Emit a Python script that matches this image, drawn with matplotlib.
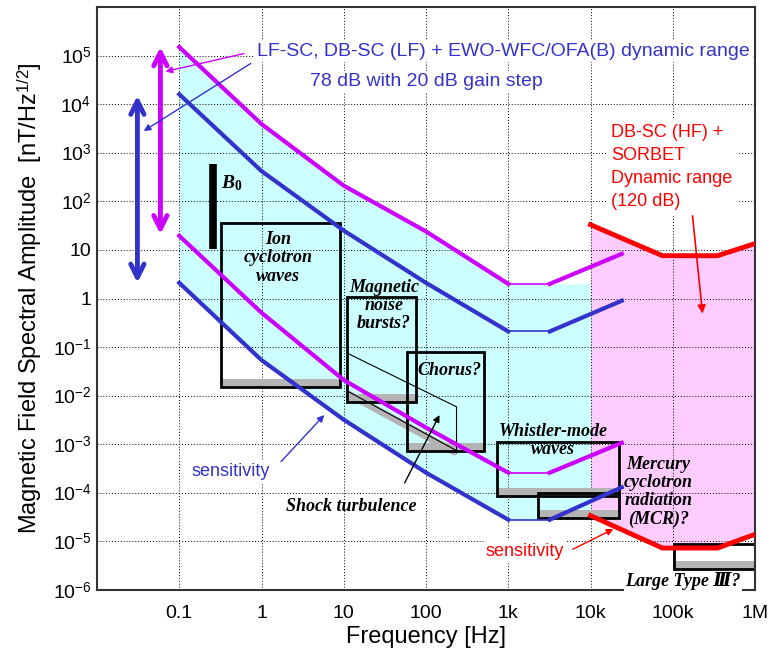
import matplotlib
matplotlib.use('Agg')
import matplotlib.pyplot as plt
from matplotlib.patches import Rectangle
from matplotlib.ticker import FixedLocator, FixedFormatter, NullLocator

plt.rcParams['font.family'] = ['Liberation Sans', 'DejaVu Sans']
plt.rcParams['mathtext.fontset'] = 'custom'
plt.rcParams['mathtext.rm'] = 'Liberation Sans'
plt.rcParams['mathtext.it'] = 'Liberation Serif:italic:bold'
plt.rcParams['mathtext.bf'] = 'Liberation Serif:bold'

# LF-SC / DB-SC (LF) curves [Hz], [nT/Hz^1/2]
freq_lf = [0.1, 1, 10, 100, 1e3, 3.2e3, 2.4e4]
mag_upper = [1.5e5, 3.9e3, 2.1e2, 2.4e1, 2.0, 2.0, 8.3]
blue_upper = [1.6e4, 4.2e2, 2.5e1, 2.1, 0.21, 0.21, 0.9]
mag_lower = [19.5, 0.51, 0.021, 2.2e-3, 2.6e-4, 2.6e-4, 1.07e-3]
blue_lower = [2.1, 0.054, 3.2e-3, 2.6e-4, 2.8e-5, 2.8e-5, 1.3e-4]

# DB-SC (HF) + SORBET
freq_hf = [1e4, 7.5e4, 3.5e5, 1e6]
red_upper = [33, 7.6, 7.6, 13.5]
red_lower = [3.4e-5, 7.3e-6, 7.3e-6, 1.4e-5]

# wave phenomena boxes
box_names = ['ion', 'noise', 'chorus', 'whistler', 'mcr', 'type3']
box_f_lo = [0.32, 11, 58, 720, 2300, 1.05e5]
box_f_hi = [9.1, 76, 510, 2.2e4, 2.2e4, 1e6]
box_b_lo = [0.015, 0.0074, 7.3e-4, 8.7e-5, 3.1e-5, 2.7e-6]
box_b_hi = [36, 1.05, 0.079, 1.1e-3, 1e-4, 9e-6]

# shock turbulence parallelogram
shock_f = [11.2, 235]
shock_top = [0.074, 0.0059]
shock_bot = [0.011, 6.6e-4]

# B0 range
b0_f = 0.26
b0_range = [10.5, 590]

x_ticks = [0.1, 1, 10, 100, 1e3, 1e4, 1e5, 1e6]
x_labels = ['0.1', '1', '10', '100', '1k', '10k', '100k', '1M']
y_ticks = [1e-6, 1e-5, 1e-4, 1e-3, 1e-2, 1e-1, 1, 10, 1e2, 1e3, 1e4, 1e5]
y_labels = [r'$10^{-6}$', r'$10^{-5}$', r'$10^{-4}$', r'$10^{-3}$', r'$10^{-2}$',
            r'$10^{-1}$', '1', '10', r'$10^{2}$', r'$10^{3}$', r'$10^{4}$', r'$10^{5}$']

MAG = '#CC00FF'
BLUE = '#3333CC'
RED = '#FF0000'
SERIF = ['Liberation Serif', 'DejaVu Serif']
WHITE_BOX = dict(facecolor='white', edgecolor='none', pad=1.5)

fig = plt.figure(figsize=(7.72, 6.59), dpi=100)
ax = fig.add_axes([97 / 772, 69 / 659, 658 / 772, 583 / 659])
ax.set_xscale('log')
ax.set_yscale('log')
ax.set_xlim(0.01, 1e6)
ax.set_ylim(1e-6, 1e6)

# filled ranges
fill_f = freq_lf[:5] + [1e4]
fill_top = mag_upper[:5] + [mag_upper[4]]
fill_bot = blue_lower[:5] + [blue_lower[4]]
ax.fill_between(fill_f, fill_bot, fill_top, color='#CCFFFF', lw=0, zorder=0.2)
ax.fill_between(freq_hf, red_lower, red_upper, color='#FFCCFF', lw=0, zorder=0.2)

ax.set_axisbelow(True)
ax.grid(True, which='major', color='black', ls=(0, (1, 2)), lw=0.7)

# boxes
for f0, f1, b0, b1, name in zip(box_f_lo, box_f_hi, box_b_lo, box_b_hi, box_names):
    if name == 'type3':
        ax.add_patch(Rectangle((f0, b0), f1 - f0, b1 - b0, facecolor='white',
                               edgecolor='none', zorder=2))
    ax.add_patch(Rectangle((f0, b0), f1 - f0, b0 * 10 ** 0.16 - b0, facecolor='#B4B4B4',
                           edgecolor='none', zorder=2.1))
    ax.add_patch(Rectangle((f0, b0), f1 - f0, b1 - b0, fill=False,
                           edgecolor='black', lw=2, zorder=2.2))

# shock turbulence
ax.plot(shock_f, shock_bot, color='#B4B4B4', lw=5, solid_capstyle='butt', zorder=2.1)
ax.plot(shock_f, [b * 1.12 for b in shock_bot], color='black', lw=0.8, zorder=2.2)
ax.plot(shock_f + [shock_f[1]], shock_top + [shock_bot[1]], color='black', lw=0.8, zorder=2.2)

# instrument curves
for vals, col in [(mag_upper, MAG), (blue_upper, BLUE), (mag_lower, MAG), (blue_lower, BLUE)]:
    ax.plot(freq_lf[:5], vals[:5], color=col, lw=3, zorder=3)
    ax.plot(freq_lf[4:6], vals[4:6], color=col, lw=1.2, zorder=3)
    ax.plot(freq_lf[5:], vals[5:], color=col, lw=3, zorder=3)
ax.plot(freq_hf, red_upper, color=RED, lw=3.5, zorder=3)
ax.plot(freq_hf, red_lower, color=RED, lw=3.5, zorder=3)

# B0
ax.plot([b0_f, b0_f], b0_range, color='black', lw=5.5, solid_capstyle='butt', zorder=3)
ax.text(0.32, 240, r'$B_{\mathbf{0}}$', fontsize=14, va='center', ha='left')

# dynamic range arrows
ax.annotate('', xy=(0.059, 21), xytext=(0.059, 1.5e5),
            arrowprops=dict(arrowstyle='<->', color=MAG, lw=3.5, mutation_scale=24,
                            shrinkA=0, shrinkB=0))
ax.annotate('', xy=(0.031, 2.1), xytext=(0.031, 1.5e4),
            arrowprops=dict(arrowstyle='<->', color=BLUE, lw=3.5, mutation_scale=24,
                            shrinkA=0, shrinkB=0))
ax.annotate('', xy=(0.068, 4.7e4), xytext=(0.61, 1.1e5),
            arrowprops=dict(arrowstyle='-|>', color=MAG, lw=1, mutation_scale=10,
                            shrinkA=0, shrinkB=0))
ax.annotate('', xy=(0.037, 2.8e3), xytext=(0.74, 6.9e4),
            arrowprops=dict(arrowstyle='-|>', color=BLUE, lw=1, mutation_scale=10,
                            shrinkA=0, shrinkB=0))
ax.text(881, 1.2e5, 'LF-SC, DB-SC (LF) + EWO-WFC/OFA(B) dynamic range', color=BLUE,
        fontsize=14, ha='center', va='center', zorder=4, bbox=WHITE_BOX)
ax.text(101, 2.9e4, '78 dB with 20 dB gain step', color=BLUE,
        fontsize=14, ha='center', va='center', zorder=4, bbox=WHITE_BOX)

ax.text(1.8e4, 3.9e3, 'DB-SC (HF) +\nSORBET\nDynamic range\n(120 dB)', color=RED,
        fontsize=13, ha='left', va='top', linespacing=1.45, zorder=4,
        bbox=dict(facecolor='white', edgecolor='none', pad=4))
ax.annotate('', xy=(2.3e5, 0.49), xytext=(1.74e5, 50),
            arrowprops=dict(arrowstyle='-|>', color=RED, lw=1.2, mutation_scale=12,
                            shrinkA=0, shrinkB=0))

# sensitivity labels
ax.text(0.142, 2.7e-4, 'sensitivity', color=BLUE, fontsize=13, ha='left', va='center',
        bbox=WHITE_BOX)
ax.annotate('', xy=(5.8, 4e-3), xytext=(1.73, 4.4e-4),
            arrowprops=dict(arrowstyle='-|>', color=BLUE, lw=1, mutation_scale=10,
                            shrinkA=0, shrinkB=0))
ax.text(532, 6.3e-6, 'sensitivity', color=RED, fontsize=13, ha='left', va='center',
        bbox=WHITE_BOX)
ax.annotate('', xy=(1.9e4, 1.8e-5), xytext=(6100, 6.9e-6),
            arrowprops=dict(arrowstyle='-|>', color=RED, lw=1, mutation_scale=10,
                            shrinkA=0, shrinkB=0))

# phenomena labels
lab = dict(family=SERIF, fontsize=13, fontweight='bold', fontstyle='italic',
           ha='center', va='center', linespacing=1.1, zorder=4)
ax.text(1.59, 6.9, 'Ion\ncyclotron\nwaves', **lab)
ax.text(31, 0.72, 'Magnetic\nnoise\nbursts?', **lab)
ax.text(194, 0.033, 'Chorus?', **lab)
ax.text(3500, 1.2e-3, 'Whistler-mode\nwaves', **lab)
ax.text(66500, 1.05e-4, 'Mercury\ncyclotron\nradiation\n(MCR)?', **lab)
ax.text(1.34e5, 1.5e-6, 'Large Type Ⅲ?', bbox=dict(facecolor='white', edgecolor='none', pad=1), **lab)
ax.text(2.0, 5.3e-5, 'Shock turbulence', **{**lab, 'ha': 'left'})
ax.annotate('', xy=(146, 4e-3), xytext=(55, 1.6e-4),
            arrowprops=dict(arrowstyle='-|>', color='black', lw=1, mutation_scale=10,
                            shrinkA=0, shrinkB=0))

ax.xaxis.set_major_locator(FixedLocator(x_ticks))
ax.xaxis.set_major_formatter(FixedFormatter(x_labels))
ax.xaxis.set_minor_locator(NullLocator())
ax.yaxis.set_major_locator(FixedLocator(y_ticks))
ax.yaxis.set_major_formatter(FixedFormatter(y_labels))
ax.yaxis.set_minor_locator(NullLocator())
ax.tick_params(axis='both', length=0, labelsize=14)
ax.tick_params(axis='x', pad=11)
ax.tick_params(axis='y', pad=4)
for sp in ax.spines.values():
    sp.set_linewidth(1.5)
    sp.set_color('#333333')

ax.set_xlabel('Frequency [Hz]', fontsize=17, labelpad=3)
ax.set_ylabel(r'Magnetic Field Spectral Amplitude  [nT/Hz$^{1/2}$]', fontsize=17, labelpad=6)

fig.savefig('out.png', dpi=100)
